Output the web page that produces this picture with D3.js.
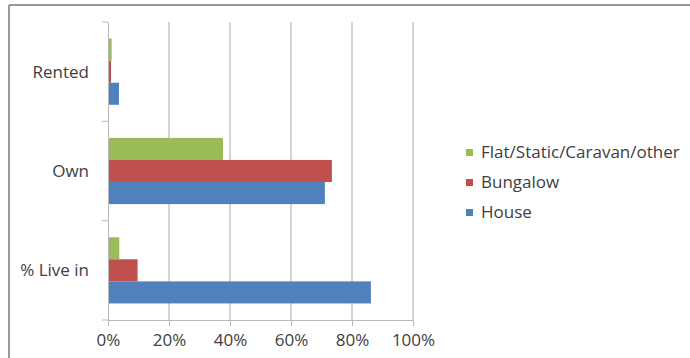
<!DOCTYPE html>
<html><head><meta charset="utf-8">
<script src="https://cdn.jsdelivr.net/npm/d3@7"></script>
<style>body{margin:0;background:#fff}svg{display:block}text{font-family:"Open Sans",Lato,sans-serif;fill:#404040}</style>
</head><body>
<script>
const categories = ["Rented", "Own", "% Live in"];
const seriesNames = ["Flat/Static/Caravan/other", "Bungalow", "House"];
const colors = ["#9bbb59", "#c0504d", "#4f81bd"];
const flatValues = [1.2, 37.7, 3.7];
const bungalowValues = [1.0, 73.4, 9.7];
const houseValues = [3.6, 71.1, 86.2];
const xTicks = [0, 20, 40, 60, 80, 100];

const values = [flatValues, bungalowValues, houseValues];
const W = 690, H = 358;
const svg = d3.select("body").append("svg").attr("width", W).attr("height", H);

// outer frame (top and left visible)
svg.append("line").attr("x1", 9).attr("x2", W).attr("y1", 5).attr("y2", 5).attr("stroke", "#999").attr("stroke-width", 2);
svg.append("line").attr("x1", 9).attr("x2", 9).attr("y1", 5).attr("y2", H).attr("stroke", "#999").attr("stroke-width", 2);

const x = d3.scaleLinear().domain([0, 100]).range([108, 413]);
const y = d3.scaleBand().domain(categories).range([22, 320]);
const inner = d3.scaleBand().domain(d3.range(3)).range([0, y.bandwidth()]).paddingOuter(0.75).paddingInner(0);

// gridlines
svg.append("g").selectAll("line").data(xTicks.slice(1)).join("line")
  .attr("x1", d => x(d)).attr("x2", d => x(d)).attr("y1", 22).attr("y2", 320)
  .attr("stroke", "#b8b8b8").attr("stroke-width", 1.2);

// bars
categories.forEach((c, ci) => {
  svg.append("g").selectAll("rect").data(values.map((v, si) => ({v: v[ci], si}))).join("rect")
    .attr("x", x(0)).attr("y", d => y(c) + inner(d.si))
    .attr("width", d => x(d.v) - x(0)).attr("height", inner.bandwidth())
    .attr("fill", d => colors[d.si]);
});

// x axis
const xAxis = svg.append("g").attr("transform", "translate(0,320)")
  .call(d3.axisBottom(x).tickValues(xTicks).tickFormat(d => d + "%").tickSize(6).tickSizeOuter(0));
xAxis.select(".domain").attr("stroke", "#b8b8b8");
xAxis.selectAll(".tick line").attr("stroke", "#b8b8b8");
xAxis.selectAll("text").attr("font-size", 17).attr("y", 14).attr("dy", "0.71em").style("fill", "#404040").style("font-family", "'Open Sans',sans-serif");

// y axis
const yAxis = svg.append("g").attr("transform", "translate(108,0)")
  .call(d3.axisLeft(y).tickValues([]).tickSizeOuter(0));
yAxis.select(".domain").attr("stroke", "#b8b8b8");
const catTicks = [22, ...categories.map(c => y(c) + y.bandwidth())];
svg.append("g").selectAll("line").data(catTicks).join("line")
  .attr("x1", 102).attr("x2", 108).attr("y1", d => d).attr("y2", d => d).attr("stroke", "#b8b8b8");
svg.append("g").selectAll("text").data(categories).join("text")
  .attr("x", 89).attr("y", c => y(c) + y.bandwidth() / 2).attr("dy", "0.35em")
  .attr("text-anchor", "end").attr("font-size", 17).text(c => c);

// legend
const leg = svg.append("g").selectAll("g").data(seriesNames).join("g")
  .attr("transform", (d, i) => `translate(466,${152 + i * 30})`);
leg.append("rect").attr("x", 0).attr("y", -3).attr("width", 7).attr("height", 7).attr("fill", (d, i) => colors[i]);
leg.append("text").attr("x", 15).attr("y", 0).attr("dy", "0.35em").attr("font-size", 17).text(d => d);
</script>
</body></html>
